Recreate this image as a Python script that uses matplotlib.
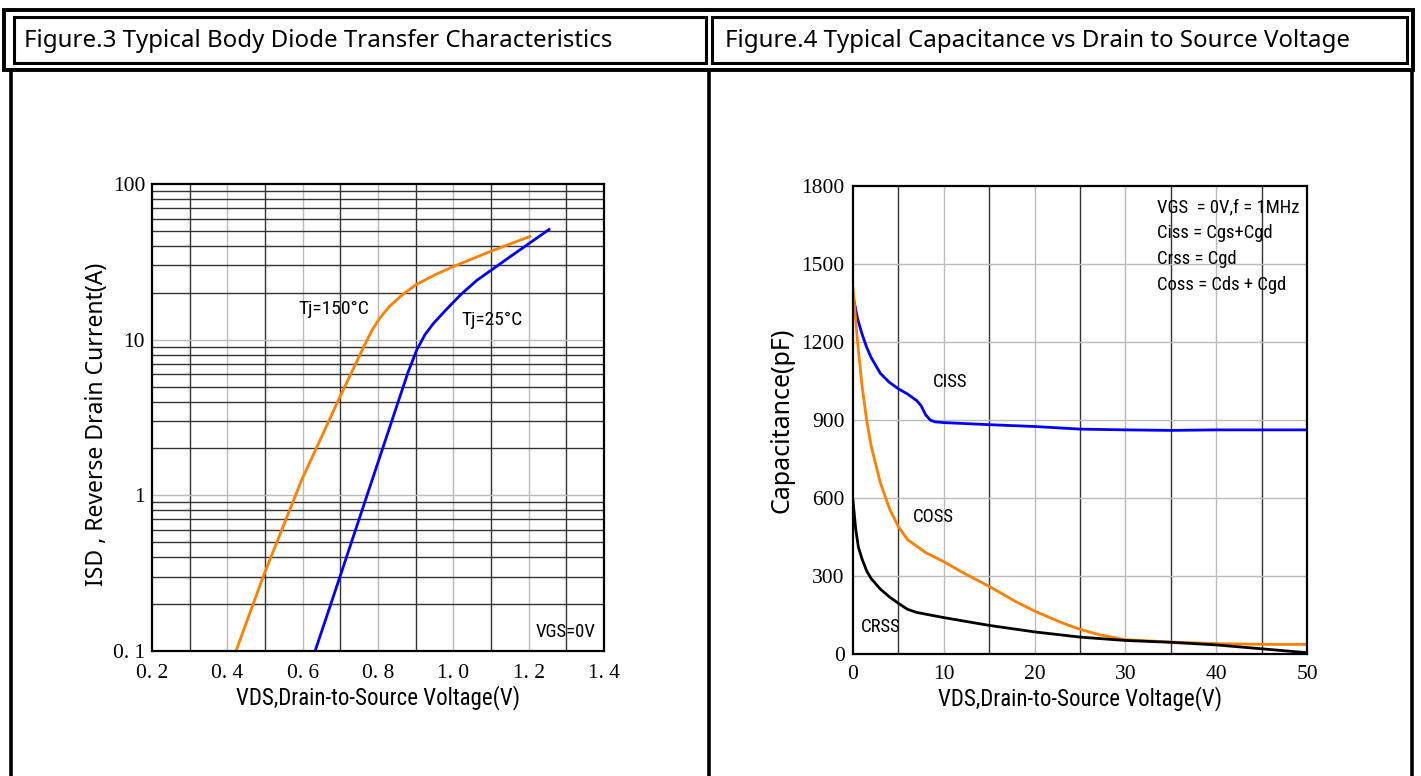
import numpy as np
import matplotlib
matplotlib.use("Agg")
import matplotlib.pyplot as plt
from matplotlib import font_manager
from matplotlib.patches import Rectangle
from matplotlib.lines import Line2D

# data
diode_v_150 = [0.423, 0.495, 0.597, 0.699, 0.765, 0.785, 0.805, 0.83, 0.86, 0.90, 0.95, 1.0, 1.1, 1.203]
diode_i_150 = [0.1, 0.30, 1.25, 4.3, 9.3, 11.6, 13.8, 16.3, 19.0, 22.5, 26.0, 29.5, 37.0, 46.0]
diode_v_25 = [0.633, 0.699, 0.805, 0.88, 0.903, 0.925, 0.947, 0.98, 1.02, 1.062, 1.15, 1.254]
diode_i_25 = [0.1, 0.30, 1.77, 6.2, 8.6, 10.8, 12.7, 15.5, 19.5, 24.0, 34.0, 51.0]

ciss_v = [0.1, 0.5, 1, 1.5, 2, 3, 4, 5, 6, 7, 7.5, 8, 8.5, 9, 10, 15, 20, 25, 30, 35, 40, 45, 50]
ciss_c = [1360, 1290, 1230, 1180, 1140, 1080, 1045, 1020, 1000, 975, 955, 920, 900, 893, 890, 882, 875, 865, 862, 860, 862, 862, 862]
coss_v = [0, 0.5, 1, 1.5, 2, 3, 4, 5, 6, 7, 8, 10, 12, 15, 18, 20, 23, 25, 27, 30, 35, 40, 45, 50]
coss_c = [1408, 1200, 1030, 900, 800, 660, 560, 490, 440, 415, 390, 355, 315, 260, 200, 165, 120, 95, 75, 55, 46, 40, 37, 37]
crss_v = [0, 0.3, 0.6, 1, 1.5, 2, 3, 4, 5, 6, 7, 10, 15, 20, 25, 30, 35, 40, 45, 50]
crss_c = [590, 480, 410, 365, 320, 290, 250, 220, 195, 172, 160, 140, 110, 85, 65, 52, 45, 35, 20, 5]

diode_xticks = [0.2, 0.4, 0.6, 0.8, 1.0, 1.2, 1.4]
diode_xlabels = ["0. 2", "0. 4", "0. 6", "0. 8", "1. 0", "1. 2", "1. 4"]
diode_yticks = [0.1, 1, 10, 100]
diode_ylabels = ["0. 1", "1", "10", "100"]
cap_xticks = [0, 10, 20, 30, 40, 50]
cap_yticks = [0, 300, 600, 900, 1200, 1500, 1800]

names = {f.name for f in font_manager.fontManager.ttflist}
narrow = "Liberation Sans"
for cand in ["Liberation Sans Narrow", "Roboto Condensed", "Open Sans Condensed"]:
    if cand in names:
        narrow = cand
        break
serif = "Liberation Serif"
sans = "Noto Sans"

W, H = 1421, 776
fig = plt.figure(figsize=(W / 100, H / 100), dpi=100)


def fx(px):
    return px / W


def fy(py):
    return 1 - py / H


# table frame
fig.add_artist(Rectangle((fx(4), fy(70)), fx(1413) - fx(4), fy(10) - fy(70),
                         transform=fig.transFigure, fill=False, lw=2.8, ec="black"))
for x0, x1 in [(14, 706), (712, 1407)]:
    fig.add_artist(Rectangle((fx(x0), fy(63)), fx(x1) - fx(x0), fy(17) - fy(63),
                             transform=fig.transFigure, fill=False, lw=2.2, ec="black"))
for x in [11, 709, 1412]:
    fig.add_artist(Line2D([fx(x), fx(x)], [fy(70), 0], transform=fig.transFigure,
                          lw=2.6, color="black"))

fig.text(fx(24), fy(41), "Figure.3 Typical Body Diode Transfer Characteristics",
         family=sans, fontsize=17.3, va="center", ha="left")
fig.text(fx(725), fy(41), "Figure.4 Typical Capacitance vs Drain to Source Voltage",
         family=sans, fontsize=17.3, va="center", ha="left")

# left chart
ax1 = fig.add_axes([fx(152), fy(651), fx(604) - fx(152), fy(184) - fy(651)])
ax1.set_yscale("log")
ax1.set_xlim(0.2, 1.4)
ax1.set_ylim(0.1, 100)
for i, x in enumerate(np.arange(0.3, 1.35, 0.1)):
    ax1.axvline(x, color="#333333" if i % 2 == 0 else "#bbbbbb", lw=1, zorder=1)
for dec in [0.1, 1, 10]:
    for m in range(2, 10):
        ax1.axhline(dec * m, color="#333333", lw=1, zorder=1)
    if dec > 0.1:
        ax1.axhline(dec, color="#bbbbbb", lw=1, zorder=1)
ax1.plot(diode_v_150, diode_i_150, color="#ff8000", lw=2, zorder=3)
ax1.plot(diode_v_25, diode_i_25, color="#0000ff", lw=2, zorder=3)
ax1.set_xticks(diode_xticks, diode_xlabels, family=serif, fontsize=15.5)
ax1.set_yticks(diode_yticks, diode_ylabels, family=serif, fontsize=15.5)
ax1.yaxis.set_minor_locator(matplotlib.ticker.NullLocator())
ax1.tick_params(axis="x", length=0, pad=9)
ax1.tick_params(axis="y", length=0, pad=5)
ax1.set_xlabel("VDS,Drain-to-Source Voltage(V)", family=narrow, fontsize=16.5)
ax1.xaxis.set_label_coords(0.5, -0.074)
ax1.set_ylabel("ISD , Reverse Drain Current(A)", family=sans, fontsize=16.5)
ax1.yaxis.set_label_coords(-0.095, 0.485)
ax1.text(0.683, 15.7, "Tj=150°C", family=narrow, fontsize=14, ha="center", va="center", zorder=4)
ax1.text(1.103, 13.4, "Tj=25°C", family=narrow, fontsize=14, ha="center", va="center", zorder=4)
ax1.text(1.299, 0.132, "VGS=0V", family=narrow, fontsize=13.5, ha="center", va="center", zorder=4)

# right chart
ax2 = fig.add_axes([fx(853), fy(654), fx(1307) - fx(853), fy(186) - fy(654)])
ax2.set_xlim(0, 50)
ax2.set_ylim(0, 1800)
for x in range(5, 50, 5):
    ax2.axvline(x, color="#333333" if x % 10 == 5 else "#bbbbbb", lw=1, zorder=1)
for y in range(300, 1800, 300):
    ax2.axhline(y, color="#bbbbbb", lw=1, zorder=1)
ax2.plot(ciss_v, ciss_c, color="#0000ff", lw=2, zorder=3)
ax2.plot(coss_v, coss_c, color="#ff8000", lw=2, zorder=3)
ax2.plot(crss_v, crss_c, color="black", lw=2, zorder=3)
ax2.set_xticks(cap_xticks, [str(v) for v in cap_xticks], family=serif, fontsize=15.5)
ax2.set_yticks(cap_yticks, [str(v) for v in cap_yticks], family=serif, fontsize=15.5)
ax2.tick_params(axis="x", length=0, pad=8)
ax2.tick_params(axis="y", length=0, pad=6)
ax2.set_xlabel("VDS,Drain-to-Source Voltage(V)", family=narrow, fontsize=16.5)
ax2.xaxis.set_label_coords(0.5, -0.068)
ax2.set_ylabel("Capacitance(pF)", family=sans, fontsize=18)
ax2.yaxis.set_label_coords(-0.128, 0.5)
ax2.text(10.7, 1046, "CISS", family=narrow, fontsize=13.5, ha="center", va="center", zorder=4)
ax2.text(8.9, 527, "COSS", family=narrow, fontsize=13.5, ha="center", va="center", zorder=4)
ax2.text(3.1, 104, "CRSS", family=narrow, fontsize=13.5, ha="center", va="center", zorder=4)
legend_lines = ["VGS  = 0V,f = 1MHz", "Ciss = Cgs+Cgd", "Crss = Cgd", "Coss = Cds + Cgd"]
for txt, yv in zip(legend_lines, [1719, 1619, 1519, 1419]):
    ax2.text(33.5, yv, txt, family=narrow, fontsize=13.4, ha="left", va="center", zorder=4)

for ax in (ax1, ax2):
    for s in ax.spines.values():
        s.set_linewidth(1.6)
        s.set_zorder(5)

fig.savefig("out.png", dpi=100)
